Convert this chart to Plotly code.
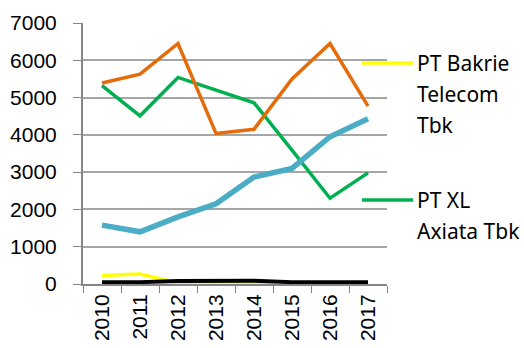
import plotly.graph_objects as go

years = ["2010", "2011", "2012", "2013", "2014", "2015", "2016", "2017"]
orange_vals = [5390, 5630, 6450, 4040, 4150, 5500, 6450, 4770]
green_vals = [5320, 4510, 5540, 5200, 4860, 3590, 2300, 2980]
blue_vals = [1580, 1400, 1800, 2150, 2870, 3100, 3950, 4430]
yellow_vals = [230, 270, 30, 20, 20, 20, 20, 20]
black_vals = [50, 50, 80, 80, 90, 50, 50, 50]
y_ticks = [0, 1000, 2000, 3000, 4000, 5000, 6000, 7000]

fig = go.Figure()
fig.add_trace(go.Scatter(x=years, y=green_vals, mode="lines", name="PT XL Axiata Tbk",
                         line=dict(color="#00B050", width=3.5), showlegend=False))
fig.add_trace(go.Scatter(x=years, y=orange_vals, mode="lines", name="orange",
                         line=dict(color="#E46C0A", width=3.5), showlegend=False))
fig.add_trace(go.Scatter(x=years, y=blue_vals, mode="lines", name="blue",
                         line=dict(color="#4BACC6", width=5.5), showlegend=False))
fig.add_trace(go.Scatter(x=years, y=yellow_vals, mode="lines", name="PT Bakrie Telecom Tbk",
                         line=dict(color="#FFFF00", width=3.5), showlegend=False))
fig.add_trace(go.Scatter(x=years, y=black_vals, mode="lines", name="black",
                         line=dict(color="#000000", width=4), showlegend=False))

W, H = 524, 348
L, R, T, B = 83, 137, 23, 64

def px(x):
    return (x - L) / (W - L - R)

def py(y):
    return 1 - (y - T) / (H - T - B)

legend_font = dict(family="Noto Sans", size=21, color="#000000")
# legend entries
fig.add_shape(type="line", xref="paper", yref="paper", x0=px(362), x1=px(413), y0=py(63), y1=py(63),
              line=dict(color="#FFFF00", width=3.5))
fig.add_shape(type="line", xref="paper", yref="paper", x0=px(362), x1=px(413), y0=py(200), y1=py(200),
              line=dict(color="#00B050", width=3.5))
for txt, yy in [("PT Bakrie", 63), ("Telecom", 94), ("Tbk", 125), ("PT XL", 200), ("Axiata Tbk", 231)]:
    fig.add_annotation(xref="paper", yref="paper", x=px(415), y=py(yy), text=txt, showarrow=False,
                       xanchor="left", yanchor="middle", font=legend_font)

fig.update_layout(
    width=W, height=H,
    margin=dict(l=L, r=R, t=T, b=B, autoexpand=False),
    paper_bgcolor="white", plot_bgcolor="white",
    font=dict(family="Liberation Sans", size=21, color="#000000"),
)
fig.update_xaxes(type="category", tickson="boundaries", ticks="outside", ticklen=7, tickcolor="#868686",
                 showline=True, linecolor="#868686", linewidth=2, showgrid=False, tickangle=-90,
                 tickfont=dict(family="Liberation Sans", size=21), range=[-0.5, 7.5], automargin=False)
fig.update_yaxes(range=[0, 7000], tickvals=y_ticks, ticks="outside", ticklen=8, tickcolor="#868686",
                 showline=True, linecolor="#868686", linewidth=2, gridcolor="#A6A6A6", gridwidth=2,
                 zeroline=False, tickfont=dict(family="Liberation Sans", size=21), ticklabelstandoff=12,
                 automargin=False)

fig.write_html("out.html")
